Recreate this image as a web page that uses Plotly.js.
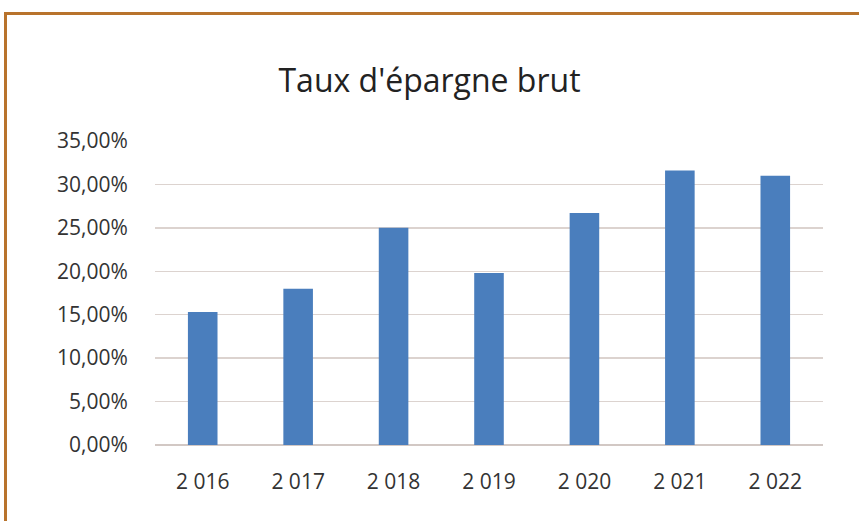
<!DOCTYPE html>
<html>
<head>
<meta charset="utf-8">
<script src="https://cdn.plot.ly/plotly-3.0.1.min.js"></script>
<style>
html,body{margin:0;padding:0;background:#ffffff;width:859px;height:521px;overflow:hidden;}
#frame{position:absolute;left:4px;top:12px;width:870px;height:520px;border-left:3px solid #b8732c;border-top:3px solid #b8732c;box-sizing:border-box;}
#chart{position:absolute;left:0;top:0;width:859px;height:521px;}
</style>
</head>
<body>
<div id="frame"></div>
<div id="chart"></div>
<script>
var years = ["2 016", "2 017", "2 018", "2 019", "2 020", "2 021", "2 022"];
var savingsRate = [0.153, 0.180, 0.250, 0.198, 0.267, 0.316, 0.310];
var yTicks = [0, 0.05, 0.10, 0.15, 0.20, 0.25, 0.30, 0.35];

var trace = {
  type: "bar",
  x: years,
  y: savingsRate,
  marker: {color: "#4a7ebd"},
  hoverinfo: "none"
};

var layout = {
  width: 859,
  height: 521,
  paper_bgcolor: "rgba(0,0,0,0)",
  plot_bgcolor: "rgba(0,0,0,0)",
  separators: ", ",
  font: {family: "'Open Sans', sans-serif", color: "#333333", size: 20},
  title: {
    text: "Taux d'épargne brut",
    font: {family: "'Open Sans', sans-serif", size: 32, color: "#222222"},
    x: 0.5, xanchor: "center", xref: "container",
    y: 0.845, yanchor: "middle", yref: "container"
  },
  margin: {l: 155, r: 36, t: 141, b: 76},
  bargap: 0.69,
  showlegend: false,
  xaxis: {
    type: "category",
    showgrid: false,
    zeroline: false,
    showline: false,
    ticks: "outside",
    ticklen: 18,
    tickcolor: "rgba(0,0,0,0)",
    tickfont: {size: 21, color: "#333333"}
  },
  yaxis: {
    range: [0, 0.35],
    tickvals: yTicks,
    tickformat: ".2%",
    showgrid: true,
    gridcolor: "#dcd3cf",
    gridwidth: 1.5,
    zeroline: true,
    zerolinecolor: "#d2c8c4",
    zerolinewidth: 1.5,
    showline: false,
    ticks: "outside",
    ticklen: 22,
    tickcolor: "rgba(0,0,0,0)",
    tickfont: {size: 21, color: "#333333"}
  }
};

Plotly.newPlot("chart", [trace], layout, {staticPlot: true, displayModeBar: false});
</script>
</body>
</html>
